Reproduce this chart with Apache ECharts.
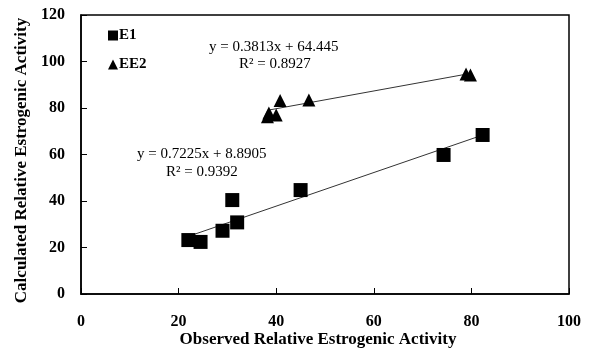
<!DOCTYPE html>
<html>
<head>
<meta charset="utf-8">
<script src="https://cdn.jsdelivr.net/npm/echarts@6/dist/echarts.min.js"></script>
<style>
  html, body { margin: 0; padding: 0; background: #fff; }
  #chart { width: 591px; height: 351px; }
</style>
</head>
<body>
<div id="chart"></div>
<script>
// observed vs calculated values
var e1Observed = [22, 24.5, 29, 31, 32, 45, 74.3, 82.3];
var e1Calculated = [23.2, 22.4, 27.2, 40.4, 30.8, 44.7, 59.8, 68.4];
var ee2Observed = [38.2, 38.5, 40, 40.8, 46.7, 78.9, 79.8];
var ee2Calculated = [76.2, 77.8, 77, 83.2, 83.4, 94.6, 94.2];

// trend lines as printed on the chart
var e1Fit = { slope: 0.7225, intercept: 8.8905, r2: 0.9392 };
var ee2Fit = { slope: 0.3813, intercept: 64.445, r2: 0.8927 };

var xTicks = [0, 20, 40, 60, 80, 100];
var yTicks = [0, 20, 40, 60, 80, 100, 120];

var serif = '"Liberation Serif", "Times New Roman", serif';

function pairs(xs, ys) {
  return xs.map(function (x, i) { return [x, ys[i]]; });
}
function fitLine(xs, fit) {
  var lo = Math.min.apply(null, xs), hi = Math.max.apply(null, xs);
  return [[lo, fit.slope * lo + fit.intercept], [hi, fit.slope * hi + fit.intercept]];
}

var chart = echarts.init(document.getElementById('chart'));

var option = {
  animation: false,
  textStyle: { fontFamily: serif },
  grid: {
    left: 81, right: 22, top: 15, bottom: 57,
    outerBoundsMode: 'none',
    show: true, borderColor: '#000', borderWidth: 1.5, backgroundColor: 'transparent'
  },
  legend: {
    data: ['E1', 'EE2'],
    orient: 'vertical',
    left: 103, top: 23,
    itemWidth: 10, itemHeight: 10, itemGap: 14,
    textStyle: { fontFamily: serif, fontWeight: 'bold', fontSize: 15, color: '#000', padding: [0, 0, 0, -4] }
  },
  xAxis: {
    type: 'value', min: 0, max: 100, interval: 20,
    name: 'Observed Relative Estrogenic Activity',
    nameLocation: 'middle', nameGap: 46, nameMoveOverlap: false,
    nameTextStyle: { fontFamily: serif, fontWeight: 'bold', fontSize: 17, color: '#000', padding: [0, 14, 0, 0], verticalAlign: 'middle' },
    axisLine: { lineStyle: { color: '#000', width: 1.5 } },
    axisTick: { inside: true, length: 6, lineStyle: { color: '#000' } },
    axisLabel: {
      margin: 20, fontFamily: serif, fontWeight: 'bold', fontSize: 16, color: '#000',
      formatter: function (v) { return xTicks.indexOf(v) >= 0 ? String(v) : ''; }
    },
    splitLine: { show: false }
  },
  yAxis: {
    type: 'value', min: 0, max: 120, interval: 20,
    name: 'Calculated Relative Estrogenic Activity',
    nameLocation: 'middle', nameGap: 51,
    nameTextStyle: { fontFamily: serif, fontWeight: 'bold', fontSize: 17, color: '#000', padding: [0, 12, 0, 0] },
    axisLine: { lineStyle: { color: '#000', width: 1.5 } },
    axisTick: { inside: true, length: 6, lineStyle: { color: '#000' } },
    axisLabel: {
      margin: 16, fontFamily: serif, fontWeight: 'bold', fontSize: 16, color: '#000',
      formatter: function (v) { return yTicks.indexOf(v) >= 0 ? String(v) : ''; }
    },
    splitLine: { show: false }
  },
  graphic: [
    { type: 'text', left: 209, top: 40, style: { text: 'y = 0.3813x + 64.445', fontFamily: serif, fontSize: 15, fill: '#000' } },
    { type: 'text', left: 239, top: 57, style: { text: 'R² = 0.8927', fontFamily: serif, fontSize: 15, fill: '#000' } },
    { type: 'text', left: 137, top: 147, style: { text: 'y = 0.7225x + 8.8905', fontFamily: serif, fontSize: 15, fill: '#000' } },
    { type: 'text', left: 166, top: 165, style: { text: 'R² = 0.9392', fontFamily: serif, fontSize: 15, fill: '#000' } }
  ],
  series: [
    {
      name: 'E1 trend', type: 'line', data: fitLine(e1Observed, e1Fit),
      symbol: 'none', lineStyle: { color: '#333', width: 1 }, z: 1, silent: true
    },
    {
      name: 'EE2 trend', type: 'line', data: fitLine(ee2Observed, ee2Fit),
      symbol: 'none', lineStyle: { color: '#333', width: 1 }, z: 1, silent: true
    },
    {
      name: 'E1', type: 'scatter', data: pairs(e1Observed, e1Calculated),
      symbol: 'rect', symbolSize: 14, itemStyle: { color: '#000', opacity: 1 }, z: 3
    },
    {
      name: 'EE2', type: 'scatter', data: pairs(ee2Observed, ee2Calculated),
      symbol: 'triangle', symbolSize: 13, itemStyle: { color: '#000', opacity: 1 }, z: 3
    }
  ]
};

chart.setOption(option);
</script>
</body>
</html>
